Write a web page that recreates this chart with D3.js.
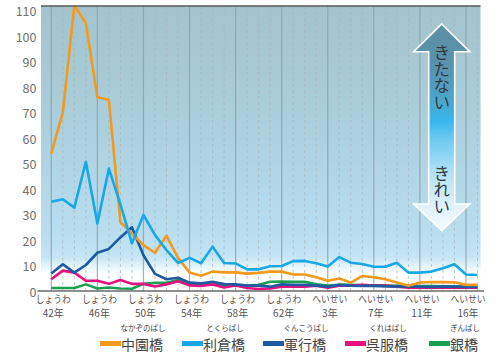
<!DOCTYPE html>
<html><head><meta charset="utf-8">
<script src="https://cdn.jsdelivr.net/npm/d3@7"></script>
<style>
html,body{margin:0;padding:0;background:#fff;}
svg{display:block;font-family:"Noto Sans CJK JP","Noto Sans",sans-serif;}
.vt{writing-mode:vertical-rl;text-orientation:upright;}
</style></head>
<body><svg id="c" width="500" height="355"></svg>
<script>
const years = [1967,1968,1969,1970,1971,1972,1973,1974,1975,1976,1977,1978,1979,1980,1981,1982,1983,1984,1985,1986,1987,1988,1989,1990,1991,1992,1993,1994,1995,1996,1997,1998,1999,2000,2001,2002,2003,2004];
const nakazono = [54,70,112,105,76,75,27,22.5,18,15,21.7,13,7.3,6,7.6,7.3,7.3,6.8,7.1,7.6,7.6,6.5,6.5,5.4,4,4.9,3.3,5.9,5.4,4.6,3.3,2.1,3.3,3.5,3.5,3.4,2.4,2.4];
const tokura = [35,36,32.7,50.7,26.5,48,34,18.7,29.8,22,16,11,13,10.9,17.4,11,10.8,8.5,8.5,9.7,9.8,11.7,11.8,10.9,9.6,13.3,11.1,10.6,9.5,9.5,11.1,7.2,7.2,7.6,8.9,10.5,6.5,6.3];
const gunko = [6.9,10.5,7.2,10.2,15,16.5,21,25,14,6.7,4.6,5.2,3.3,3,3.6,2.7,2.6,2.1,2.1,1.7,2.6,2.4,2.4,2.1,1.7,2.4,2.1,2,2,1.8,1.8,1.7,1.7,1.6,1.7,1.7,1.6,1.6];
const gofuku = [4.6,8,7.2,4,4,2.8,4.3,2.8,2.8,1.8,2.6,3.8,2.2,2,2.6,1.4,2.2,1.2,0.8,1,1.7,1.7,1.7,2.1,1.3,2.1,2.1,2.4,2.1,2.1,1.7,1.3,1.3,1.3,1.3,1.3,1.3,1.3];
const gin = [1.2,1.2,1.2,2.6,1,1.4,1,0.9,2.8,3.2,3.2,4.3,2.7,2.4,2.7,2,2.2,2.1,2.4,3.6,3.7,3.6,3.6,2.6,2.1,2.4,2.4,2.2,2.2,2.1,2,2,1.9,1.9,1.8,1.8,1.7,1.7];
const seriesNames = ["中園橋","利倉橋","軍行橋","呉服橋","銀橋"];
const seriesKana = ["なかぞのばし","とくらばし","ぐんこうばし","くれはばし","ぎんばし"];
const yTicks = [0,10,20,30,40,50,60,70,80,90,100,110];
const xTickYears = [1967,1971,1975,1979,1983,1987,1991,1995,1999,2003];
const xTickEra = ["しょうわ","しょうわ","しょうわ","しょうわ","しょうわ","しょうわ","へいせい","へいせい","へいせい","へいせい"];
const xTickYear = ["42年","46年","50年","54年","58年","62年","3年","7年","11年","16年"];
const arrowTop = "きたない";
const arrowBottom = "きれい";

const colors = ["#f39a1e","#17a8e8","#1e5aa2","#e4117f","#1ba053"];
const data = [nakazono,tokura,gunko,gofuku,gin];

const svg = d3.select("#c");
const L=41,R=480.5,T=6,B=291;
const x = d3.scaleLinear().domain([1967,2004]).range([51.3,477.5]);
const y = d3.scaleLinear().domain([0,110]).range([291,10.5]);

const defs = svg.append("defs");
const bg = defs.append("linearGradient").attr("id","bg").attr("x1",0).attr("y1",0).attr("x2",0).attr("y2",1);
[[0,"#a3c3cc"],[0.45,"#acd0de"],[0.8,"#b9def0"],[0.88,"#c4e5f5"],[0.915,"#e6f5fc"],[0.94,"#ffffff"],[1,"#ffffff"]].forEach(s=>bg.append("stop").attr("offset",s[0]).attr("stop-color",s[1]));
defs.append("clipPath").attr("id","clip").append("rect").attr("x",L).attr("y",T).attr("width",R-L).attr("height",B-T+3);

svg.append("rect").attr("x",L).attr("y",T).attr("width",R-L).attr("height",B-T).attr("fill","url(#bg)");

// grid
svg.append("g").selectAll("line").data(years).join("line")
  .attr("x1",d=>x(d)).attr("x2",d=>x(d)).attr("y1",T).attr("y2",B)
  .attr("stroke",d=>((d-1967)%4===0)?"#8f9ea3":"#a9b6ba")
  .attr("stroke-width",d=>((d-1967)%4===0)?1.2:1)
  .attr("stroke-dasharray",d=>((d-1967)%4===0)?null:"3,3")
  .attr("opacity",d=>((d-1967)%4===0)?0.8:0.7);

// arrow
const ag = defs.append("linearGradient").attr("id","ag").attr("x1",0).attr("y1",0).attr("x2",0).attr("y2",1);
[[0,"#5e8ea3"],[0.2,"#5a93ae"],[0.38,"#4aa6cf"],[0.47,"#36b7ec"],[0.56,"#6fcaf1"],[0.72,"#b2e1f6"],[0.88,"#dff2fb"],[1,"#f4fbfe"]].forEach(s=>ag.append("stop").attr("offset",s[0]).attr("stop-color",s[1]));
const ax=441.7, at=24, ab=230.7, ahb1=51.7, ahb2=204, hw=28, sw=13;
svg.append("path").attr("d",`M${ax},${at}L${ax+hw},${ahb1}L${ax+sw},${ahb1}L${ax+sw},${ahb2}L${ax+hw},${ahb2}L${ax},${ab}L${ax-hw},${ahb2}L${ax-sw},${ahb2}L${ax-sw},${ahb1}L${ax-hw},${ahb1}Z`)
  .attr("fill","url(#ag)").attr("stroke","#fff").attr("stroke-width",1.6).attr("stroke-linejoin","miter");
svg.append("text").attr("class","vt").attr("x",ax).attr("y",44.5)
  .attr("font-size",16.5).attr("fill","#2e3a40").text(arrowTop);
svg.append("text").attr("class","vt").attr("x",ax).attr("y",165)
  .attr("font-size",16.5).attr("fill","#2e3a40").text(arrowBottom);

// lines
const line = d3.line().x((d,i)=>x(years[i])).y(d=>y(d));
const order=[4,3,2,0,1];
svg.append("g").attr("clip-path","url(#clip)").selectAll("path").data(order).join("path")
  .attr("d",k=>line(data[k])).attr("fill","none").attr("stroke",k=>colors[k])
  .attr("stroke-width",2.6).attr("stroke-linejoin","round").attr("stroke-linecap","butt");

// frame
svg.append("line").attr("x1",L).attr("x2",R).attr("y1",T).attr("y2",T).attr("stroke","#5a5a5a").attr("stroke-width",1.5);
svg.append("line").attr("x1",37.5).attr("x2",484).attr("y1",B).attr("y2",B).attr("stroke","#6a6a6a").attr("stroke-width",1.5);

// y labels
svg.append("g").selectAll("text").data(yTicks).join("text")
  .attr("x",36.5).attr("y",d=>y(d)).attr("text-anchor","end").attr("dominant-baseline","central")
  .attr("font-size",12.5).attr("fill","#707070").text(d=>d);

// x labels
const xl = svg.append("g").selectAll("g").data(xTickYears).join("g");
xl.append("text").attr("x",d=>x(d)+2).attr("y",302.8).attr("text-anchor","middle")
  .attr("font-size",10.5).attr("textLength",35).attr("lengthAdjust","spacingAndGlyphs")
  .attr("fill","#555").text((d,i)=>xTickEra[i]);
xl.append("text").attr("x",d=>x(d)+2).attr("y",317.4).attr("text-anchor","middle")
  .attr("font-size",10).attr("fill","#555").text((d,i)=>xTickYear[i]);

// legend
const lx = [100,182,263,345,429];
const lg = svg.append("g").selectAll("g").data(seriesNames).join("g").attr("transform",(d,i)=>`translate(${lx[i]},0)`);
lg.append("rect").attr("x",0).attr("y",341).attr("width",21).attr("height",5).attr("fill",(d,i)=>colors[i]);
lg.append("text").attr("x",21).attr("y",350.3).attr("font-size",14).attr("fill","#444").text(d=>d);
lg.append("text").attr("x",d=>21+(d.length*14)/2+1).attr("y",331.2).attr("text-anchor","middle")
  .attr("font-size",7.5).attr("fill","#444").text((d,i)=>seriesKana[i]);
</script></body></html>
